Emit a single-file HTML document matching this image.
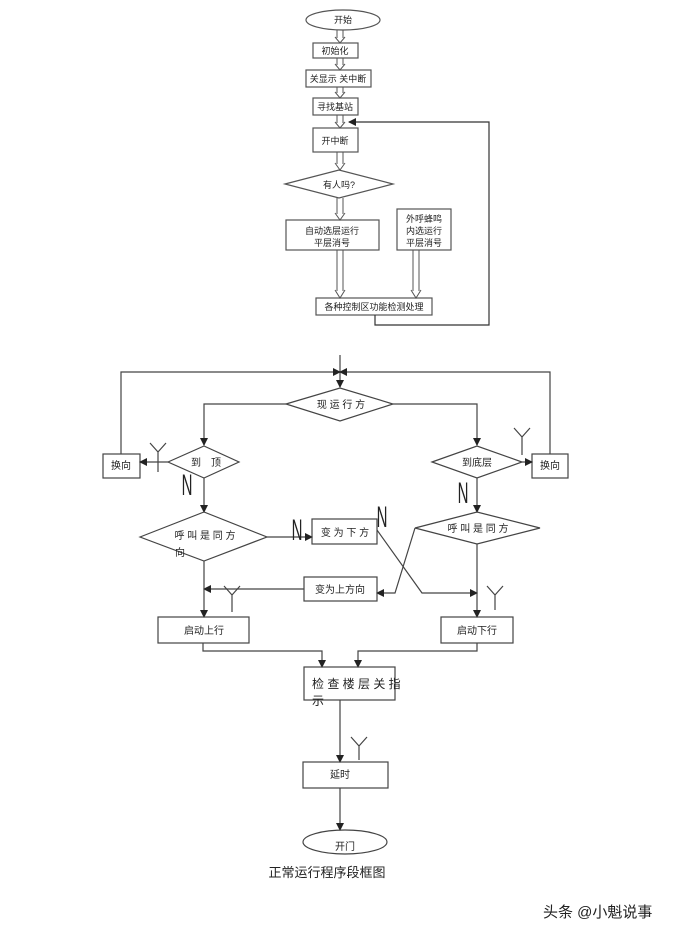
<!DOCTYPE html>
<html><head><meta charset="utf-8"><style>
html,body{margin:0;padding:0;background:#fff;}
svg{display:block;}
text{font-family:"Liberation Sans","Noto Sans CJK SC",sans-serif;fill:#222;}
</style></head><body>
<svg width="685" height="935" viewBox="0 0 685 935" xmlns="http://www.w3.org/2000/svg">
<defs>
<marker id="a" markerWidth="8" markerHeight="8" refX="7" refY="4" orient="auto" markerUnits="userSpaceOnUse">
<path d="M0,0 L8,4 L0,8 z" fill="#222"/></marker>
</defs>
<g fill="none" stroke="#555" stroke-width="1.2">
<ellipse cx="343" cy="20" rx="37" ry="10"/>
<rect x="313" y="43" width="45" height="15"/>
<rect x="306" y="70" width="65" height="17"/>
<rect x="313" y="98" width="45" height="17"/>
<rect x="313" y="128" width="45" height="24"/>
<polygon points="285,184 339,170 393,184 339,198"/>
<rect x="286" y="220" width="93" height="30"/>
<rect x="397" y="209" width="54" height="41"/>
<rect x="316" y="298" width="116" height="17"/>
<polyline points="375,315 375,325 489,325 489,122 349,122" marker-end="url(#a)" stroke="#333"/>
</g>
<g fill="none" stroke="#555" stroke-width="1">
<path d="M337,30V38M343,30V38M335,37L340,43L345,37"/>
<path d="M337,58V65M343,58V65M335,64L340,70L345,64"/>
<path d="M337,87V93M343,87V93M335,92L340,98L345,92"/>
<path d="M337,115V123M343,115V123M335,122L340,128L345,122"/>
<path d="M337,152V164M343,152V164M335,163L340,170L345,163"/>
<path d="M337,198V214M343,198V214M335,213L340,220L345,213"/>
<path d="M337,250V291M343,250V291M335,290L340,298L345,290"/>
<path d="M413,250V291M419,250V291M411,290L416,298L421,290"/>
</g>
<g font-size="9" text-anchor="middle">
<text x="343" y="23">开始</text>
<text x="335" y="54">初始化</text>
<text x="338" y="82">关显示 关中断</text>
<text x="335" y="110">寻找基站</text>
<text x="335" y="144">开中断</text>
<text x="339" y="188">有人吗?</text>
<text x="332" y="234">自动选层运行</text>
<text x="332" y="246">平层消号</text>
<text x="424" y="222">外呼蜂鸣</text>
<text x="424" y="234">内选运行</text>
<text x="424" y="246">平层消号</text>
<text x="374" y="310">各种控制区功能检测处理</text>
</g>
<g fill="none" stroke="#444" stroke-width="1.2">
<path d="M340,355V387" marker-end="url(#a)"/>
<path d="M121,454V372H340" marker-end="url(#a)"/>
<path d="M550,454V372H340" marker-end="url(#a)"/>
<polygon points="286,404 340,388 393,404 340,421"/>
<path d="M286,404H204V445" marker-end="url(#a)"/>
<path d="M393,404H477V445" marker-end="url(#a)"/>
<polygon points="168,462 204,446 239,462 204,478"/>
<polygon points="432,462 477,446 522,462 477,478"/>
<rect x="103" y="454" width="37" height="24"/>
<rect x="532" y="454" width="36" height="24"/>
<path d="M168,462H140" marker-end="url(#a)"/>
<path d="M522,462H532" marker-end="url(#a)"/>
<path d="M204,478V512" marker-end="url(#a)"/>
<path d="M477,478V512" marker-end="url(#a)"/>
<polygon points="140,537 204,512 267,537 204,561"/>
<polygon points="415,528 477,512 540,528 477,544"/>
<path d="M267,537H312" marker-end="url(#a)"/>
<rect x="312" y="519" width="65" height="25"/>
<path d="M377,530L422,593H477" marker-end="url(#a)"/>
<path d="M415,528L395,593H377" marker-end="url(#a)"/>
<rect x="304" y="577" width="73" height="24"/>
<path d="M304,589H204" marker-end="url(#a)"/>
<path d="M204,561V617" marker-end="url(#a)"/>
<path d="M477,544V617" marker-end="url(#a)"/>
<rect x="158" y="617" width="91" height="26"/>
<rect x="441" y="617" width="72" height="26"/>
<path d="M203,643V651H322V667" marker-end="url(#a)"/>
<path d="M477,643V651H358V667" marker-end="url(#a)"/>
<rect x="304" y="667" width="91" height="33"/>
<path d="M340,700V762" marker-end="url(#a)"/>
<rect x="303" y="762" width="85" height="26"/>
<path d="M340,788V830" marker-end="url(#a)"/>
<ellipse cx="345" cy="842" rx="42" ry="12"/>
</g>
<g fill="none" stroke="#444" stroke-width="1.2">
<path d="M150,443L158,452L166,443M158,452V472"/>
<path d="M514,428L522,437L530,428M522,437V455"/>
<path d="M224,586L232,595L240,586M232,595V612"/>
<path d="M487,586L495,595L503,586M495,595V610"/>
<path d="M351,737L359,746L367,737M359,746V760"/>
</g>
<g font-size="30" text-anchor="middle">
<text transform="translate(187,495) scale(0.5,1)">N</text>
<text transform="translate(297,540) scale(0.5,1)">N</text>
<text transform="translate(382,527) scale(0.5,1)">N</text>
<text transform="translate(463,503) scale(0.5,1)">N</text>
</g>
<g font-size="10" text-anchor="middle">
<text x="341" y="408">现 运 行 方</text>
<text x="206" y="466">到　顶</text>
<text x="477" y="466">到底层</text>
<text x="121" y="469">换向</text>
<text x="550" y="469">换向</text>
<text x="205" y="539">呼 叫 是 同 方</text>
<text x="180" y="556">向</text>
<text x="345" y="536">变 为 下 方</text>
<text x="478" y="532">呼 叫 是 同 方</text>
<text x="340" y="593">变为上方向</text>
<text x="204" y="634">启动上行</text>
<text x="477" y="634">启动下行</text>
<text x="340" y="778">延时</text>
<text x="345" y="850">开门</text>
</g>
<g font-size="12">
<text x="312" y="688">检 查 楼 层 关 指</text>
<text x="312" y="705">示</text>
</g>
<text x="327" y="877" font-size="13" text-anchor="middle">正常运行程序段框图</text>
<text x="543" y="917" font-size="15">头条 @小魁说事</text>
</svg>
</body></html>
